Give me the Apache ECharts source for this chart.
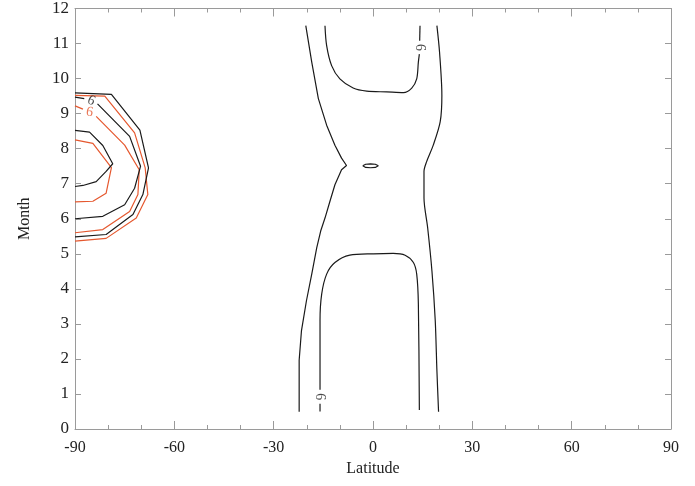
<!DOCTYPE html>
<html>
<head>
<meta charset="utf-8">
<script src="https://cdn.jsdelivr.net/npm/echarts@6/dist/echarts.min.js"></script>
<style>
  html, body { margin: 0; padding: 0; background: #fff; }
  #chart { width: 695px; height: 486px; }
</style>
</head>
<body>
<div id="chart"></div>
<script>
// Axis ranges and tick labels
const latTicks = [-90, -60, -30, 0, 30, 60, 90];
const monthTicks = [0, 1, 2, 3, 4, 5, 6, 7, 8, 9, 10, 11, 12];

// Contour lines, each as [latitude, month] pairs
// Tropical band (black)
const centreWestEdge = [[-20.3,11.51],[-18.5,10.47],[-16.5,9.43],[-14.0,8.67],[-11.5,8.10],[-9.5,7.73],[-8.0,7.52],[-9.5,7.40],[-11.5,6.97],[-13.0,6.50],[-14.5,6.02],[-15.8,5.65],[-17.0,5.17],[-18.5,4.42],[-20.1,3.66],[-21.6,2.81],[-22.3,1.96],[-22.3,0.49]];
const centreEastEdge = [[19.3,11.51],[20.1,10.75],[20.8,9.52],[20.3,8.77],[18.2,8.10],[16.2,7.63],[15.4,7.35],[15.4,6.59],[16.5,5.75],[17.8,4.51],[18.8,3.09],[19.3,1.67],[19.8,0.49]];
const upperLoopA = [[-14.5,11.51],[-14.0,10.94],[-12.5,10.37],[-10.0,9.99],[-6.0,9.73],[-1.9,9.64],[4.1,9.62],[9.2,9.60],[11.7,9.73],[13.2,9.99],[13.7,10.47],[14.0,10.70]];
const upperLoopB = [[14.1,11.08],[14.2,11.51]];
const lowerLoopA = [[-16.0,0.50],[-16.0,0.72]];
const lowerLoopB = [[-16.0,1.12],[-16.0,3.09],[-15.5,3.85],[-14.0,4.42],[-11.5,4.75],[-7.0,4.96],[0.1,5.00],[6.1,5.01],[9.7,4.96],[12.2,4.75],[13.2,4.42],[13.7,3.57],[14.0,0.54]];
const centreEddy = [[-3.1,7.51],[-2.2,7.555],[-0.75,7.565],[0.7,7.555],[1.6,7.51],[0.7,7.465],[-0.75,7.455],[-2.2,7.465],[-3.1,7.51]];

// Southern polar cap, black field
const blackOuterLeft = [[-90,9.59],[-79.0,9.55],[-70.4,8.53],[-67.8,7.45],[-69.5,6.69],[-72.5,6.12],[-80.6,5.55],[-90,5.48]];
const blackMidLeftA = [[-90,9.47],[-87.2,9.43]];
const blackMidLeftB = [[-83.2,9.28],[-73.5,8.35],[-70.2,7.50],[-72.0,6.87],[-75.0,6.40],[-81.6,6.07],[-90,6.00]];
const blackInnerLeft = [[-90,8.52],[-85.6,8.47],[-81.6,8.09],[-78.6,7.57],[-80.6,7.35],[-83.6,7.06],[-87.6,6.95],[-90,6.92]];

// Southern polar cap, red field
const redOuterLeft = [[-90,9.52],[-81.0,9.50],[-72.0,8.45],[-68.8,7.45],[-68.0,6.69],[-71.5,6.02],[-80.6,5.44],[-90,5.36]];
const redMidLeftA = [[-90,9.22],[-87.6,9.13]];
const redMidLeftB = [[-83.6,8.92],[-75.0,8.10],[-70.6,7.40],[-71.0,6.69],[-73.5,6.21],[-81.6,5.69],[-90,5.60]];
const redInnerLeft = [[-90,8.25],[-84.6,8.15],[-79.0,7.46],[-80.6,6.73],[-84.6,6.50],[-90,6.48]];

// Contour level labels: [latitude, month, text, rotation]
const blackLabels = [[14.0,10.89,'6',-90],[-16.0,0.92,'6',-90],[-85.1,9.37,'6',-25]];
const redLabels = [[-85.6,9.04,'6',-10]];

const BLACK = '#1a1a1a';
const RED = '#e5582f';
const AXIS = '#9a9a9a';
const SERIF = '"Liberation Serif", "DejaVu Serif", serif';

function contour(points, color, smooth) {
  return {
    type: 'line',
    data: points,
    symbol: 'none',
    silent: true,
    smooth: smooth || false,
    lineStyle: { color: color, width: 1.2 },
    z: 3
  };
}

function labelSeries(items, color) {
  return {
    type: 'scatter',
    symbolSize: 0,
    silent: true,
    z: 4,
    data: items.map(function (d) {
      return {
        value: [d[0], d[1]],
        label: {
          show: true,
          position: 'inside',
          formatter: d[2],
          rotate: d[3],
          color: color,
          fontFamily: SERIF,
          fontSize: 14
        }
      };
    })
  };
}

// Smoothed tropical loops, straight-segment polar contours
const smoothBlack = [centreEastEdge, upperLoopA, lowerLoopB];
const straightBlack = [centreWestEdge, upperLoopB, lowerLoopA, centreEddy,
  blackOuterLeft, blackMidLeftA, blackMidLeftB, blackInnerLeft];
const redLines = [redOuterLeft, redMidLeftA, redMidLeftB, redInnerLeft];

const series = []
  .concat(redLines.map(function (p) { return contour(p, RED); }))
  .concat(straightBlack.map(function (p) { return contour(p, BLACK); }))
  .concat(smoothBlack.map(function (p) { return contour(p, BLACK, 0.3); }))
  .concat([labelSeries(blackLabels, BLACK), labelSeries(redLabels, RED)]);

const tickStyle = { color: AXIS, width: 1 };

const chart = echarts.init(document.getElementById('chart'), null, { renderer: 'canvas' });
chart.setOption({
  animation: false,
  backgroundColor: '#fff',
  grid: { left: 75, right: 24, top: 6, bottom: 57, containLabel: false },
  xAxis: [
    {
      type: 'value', position: 'bottom',
      min: latTicks[0], max: latTicks[latTicks.length - 1], interval: 30,
      axisLine: { show: true, onZero: false, lineStyle: tickStyle },
      axisTick: { show: true, inside: true, length: 8, lineStyle: tickStyle },
      minorTick: { show: true, splitNumber: 3, length: 4, lineStyle: tickStyle },
      splitLine: { show: false },
      axisLabel: { color: '#222', fontFamily: SERIF, fontSize: 16, margin: 11,
        formatter: function (v) { return latTicks.indexOf(v) >= 0 ? String(v) : ''; } },
      name: 'Latitude', nameLocation: 'middle', nameGap: 32,
      nameTextStyle: { color: '#222', fontFamily: SERIF, fontSize: 16 }
    },
    {
      type: 'value', position: 'top',
      min: latTicks[0], max: latTicks[latTicks.length - 1], interval: 30,
      axisLine: { show: true, onZero: false, lineStyle: tickStyle },
      axisTick: { show: true, inside: true, length: 8, lineStyle: tickStyle },
      minorTick: { show: true, splitNumber: 3, length: 4, lineStyle: tickStyle },
      splitLine: { show: false },
      axisLabel: { show: false }
    }
  ],
  yAxis: [
    {
      type: 'value', position: 'left',
      min: monthTicks[0], max: monthTicks[monthTicks.length - 1], interval: 1,
      axisLine: { show: true, onZero: false, lineStyle: tickStyle },
      axisTick: { show: true, inside: true, length: 6, lineStyle: tickStyle },
      splitLine: { show: false },
      axisLabel: { color: '#222', fontFamily: SERIF, fontSize: 17, margin: 6 },
      name: 'Month', nameLocation: 'middle', nameGap: 42,
      nameTextStyle: { color: '#222', fontFamily: SERIF, fontSize: 16 }
    },
    {
      type: 'value', position: 'right',
      min: monthTicks[0], max: monthTicks[monthTicks.length - 1], interval: 1,
      axisLine: { show: true, onZero: false, lineStyle: tickStyle },
      axisTick: { show: true, inside: true, length: 6, lineStyle: tickStyle },
      splitLine: { show: false },
      axisLabel: { show: false }
    }
  ],
  series: series
});
</script>
</body>
</html>
